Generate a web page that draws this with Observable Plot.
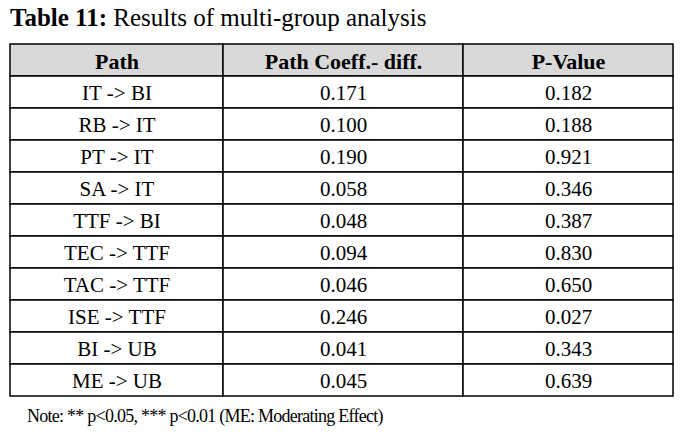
<!DOCTYPE html>
<html>
<head>
<meta charset="utf-8">
<script src="https://cdn.jsdelivr.net/npm/d3@7"></script>
<script src="https://cdn.jsdelivr.net/npm/@observablehq/plot@0.6"></script>
<style>
  body { margin: 0; background: #fff; font-family: "Liberation Serif", "Times New Roman", serif; color: #000; }
  #title { height: 38px; padding-left: 10px; font-size: 25px; line-height: 36px; }
  #note { padding-left: 27px; font-size: 18px; letter-spacing: -0.75px; line-height: 22px; margin-top: 3px; }
</style>
</head>
<body>
<div id="title"><b>Table 11:</b> Results of multi-group analysis</div>
<div id="chart"></div>
<div id="note">Note: ** p&lt;0.05, *** p&lt;0.01 (ME: Moderating Effect)</div>
<script>
const headers = ["Path", "Path Coeff.- diff.", "P-Value"];
const paths = ["IT -> BI", "RB -> IT", "PT -> IT", "SA -> IT", "TTF -> BI", "TEC -> TTF", "TAC -> TTF", "ISE -> TTF", "BI -> UB", "ME -> UB"];
const coeffDiff = [0.171, 0.100, 0.190, 0.058, 0.048, 0.094, 0.046, 0.246, 0.041, 0.045];
const pValues = [0.182, 0.188, 0.921, 0.346, 0.387, 0.830, 0.650, 0.027, 0.343, 0.639];

// layout (column boundaries in table units)
const colEdges = [0, 213, 453, 663];
const fmt = d3.format(".3f");

const rowKeys = ["h", ...paths.map((_, i) => String(i))];
const cells = [];
headers.forEach((h, c) => cells.push({row: "h", col: c, text: h, header: true}));
paths.forEach((p, i) => {
  const vals = [p, fmt(coeffDiff[i]), fmt(pValues[i])];
  vals.forEach((v, c) => cells.push({row: String(i), col: c, text: v, header: false}));
});
const headCells = cells.filter(d => d.header);
const bodyCells = cells.filter(d => !d.header);
const midX = d => (colEdges[d.col] + colEdges[d.col + 1]) / 2;

const chart = Plot.plot({
  width: 687,
  height: 364,
  marginLeft: 10,
  marginRight: 14,
  marginTop: 2,
  marginBottom: 3,
  style: {fontFamily: "Liberation Serif, Times New Roman, serif", background: "white"},
  x: {domain: [0, 663], axis: null},
  y: {type: "band", domain: rowKeys, padding: 0, axis: null},
  marks: [
    Plot.barX(cells, {
      x1: d => colEdges[d.col], x2: d => colEdges[d.col + 1], y: "row",
      fill: d => d.header ? "#d9d9d9" : "#ffffff",
      stroke: "#000", strokeWidth: 1.5, inset: 0
    }),
    Plot.text(headCells, {
      x: midX, y: "row", text: "text", fontSize: 22, fontWeight: "bold", fill: "#000", dy: 1
    }),
    Plot.text(bodyCells, {
      x: midX, y: "row", text: "text", fontSize: 21, fill: "#000", dy: 1
    })
  ]
});
document.getElementById("chart").appendChild(chart);
</script>
</body>
</html>
